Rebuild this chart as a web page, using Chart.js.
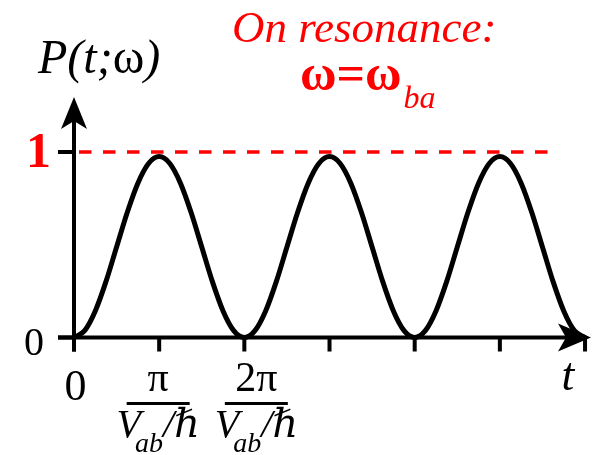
<!DOCTYPE html>
<html>
<head>
<meta charset="utf-8">
<script src="https://cdn.jsdelivr.net/npm/chart.js@4/dist/chart.umd.min.js"></script>
<style>
  html, body { margin: 0; padding: 0; background: #fff; }
  #wrap { width: 594px; height: 455px; }
</style>
</head>
<body>
<div id="wrap"><canvas id="c" width="594" height="455"></canvas></div>
<script>
// Time axis in units of π/(V_ab/ħ)
const tValues = [
  0, 0.125, 0.25, 0.375, 0.5, 0.625, 0.75, 0.875, 1, 1.125, 1.25, 1.375, 1.5, 1.625, 1.75, 1.875,
  2, 2.125, 2.25, 2.375, 2.5, 2.625, 2.75, 2.875, 3, 3.125, 3.25, 3.375, 3.5, 3.625, 3.75, 3.875,
  4, 4.125, 4.25, 4.375, 4.5, 4.625, 4.75, 4.875, 5, 5.125, 5.25, 5.375, 5.5, 5.625, 5.75, 5.875,
  6
];
// Transition probability P(t;ω) on resonance
const probValues = [
  0, 0.037, 0.143, 0.301, 0.488, 0.674, 0.832, 0.938, 0.975, 0.938, 0.832, 0.674, 0.488, 0.301, 0.143, 0.037,
  0, 0.037, 0.143, 0.301, 0.488, 0.674, 0.832, 0.938, 0.975, 0.938, 0.832, 0.674, 0.488, 0.301, 0.143, 0.037,
  0, 0.037, 0.143, 0.301, 0.488, 0.674, 0.832, 0.938, 0.975, 0.938, 0.832, 0.674, 0.488, 0.301, 0.143, 0.037,
  0
];
const xTickValues = [0, 1, 2, 3, 4, 5, 6];
const yTickValues = [0, 1];
const yTickLabels = ['0', '1'];
const fractionNumerators = ['π', '2π'];
const fractionTicks = [1, 2];
const maxProbability = 1;

const SERIF = '"Liberation Serif", "Times New Roman", "DejaVu Serif", serif';
const RED = '#ff0000';

function arrowHead(ctx, tipX, tipY, dirX, dirY, len, half, notch) {
  const nx = -dirY, ny = dirX;
  const bx = tipX - dirX * len, by = tipY - dirY * len;
  const cx = tipX - dirX * notch, cy = tipY - dirY * notch;
  ctx.beginPath();
  ctx.moveTo(tipX, tipY);
  ctx.lineTo(bx + nx * half, by + ny * half);
  ctx.lineTo(cx, cy);
  ctx.lineTo(bx - nx * half, by - ny * half);
  ctx.closePath();
  ctx.fill();
}

const backdrop = {
  id: 'backdrop',
  beforeDatasetsDraw(chart) {
    const ctx = chart.ctx;
    const xs = chart.scales.x, ys = chart.scales.y;
    const x0 = xs.getPixelForValue(0), y0 = ys.getPixelForValue(0);
    const y1 = ys.getPixelForValue(maxProbability);
    ctx.save();
    // dashed reference level
    ctx.strokeStyle = RED;
    ctx.lineWidth = 3.5;
    ctx.setLineDash([12.5, 11.5]);
    ctx.beginPath();
    ctx.moveTo(x0 + 5, y1);
    ctx.lineTo(557, y1);
    ctx.stroke();
    ctx.setLineDash([]);
    // axes
    ctx.strokeStyle = '#000';
    ctx.lineWidth = 4;
    ctx.beginPath();
    ctx.moveTo(58, y0);
    ctx.lineTo(xs.right - 12, y0);
    ctx.moveTo(x0, y0 + 14);
    ctx.lineTo(x0, ys.top + 12);
    ctx.stroke();
    // tick marks
    ctx.beginPath();
    xTickValues.forEach(v => {
      const px = xs.getPixelForValue(v);
      ctx.moveTo(px, y0);
      ctx.lineTo(px, y0 + 14);
    });
    yTickValues.forEach(v => {
      const py = ys.getPixelForValue(v);
      ctx.moveTo(58, py);
      ctx.lineTo(x0, py);
    });
    ctx.stroke();
    ctx.restore();
  },
  afterDraw(chart) {
    const ctx = chart.ctx;
    const xs = chart.scales.x, ys = chart.scales.y;
    const x0 = xs.getPixelForValue(0), y0 = ys.getPixelForValue(0);
    ctx.save();
    ctx.fillStyle = '#000';
    arrowHead(ctx, x0, ys.top - 1, 0, -1, 32, 13, 24);
    arrowHead(ctx, xs.right, y0, 1, 0, 33, 14, 25);

    ctx.textBaseline = 'alphabetic';
    // y tick labels
    ctx.textAlign = 'center';
    ctx.fillStyle = '#000';
    ctx.font = '40px ' + SERIF;
    ctx.fillText(yTickLabels[0], 34, ys.getPixelForValue(yTickValues[0]) + 17);
    ctx.fillStyle = RED;
    ctx.font = 'bold 50px ' + SERIF;
    ctx.fillText(yTickLabels[1], 38.5, ys.getPixelForValue(yTickValues[1]) + 15);

    // x tick labels
    ctx.fillStyle = '#000';
    ctx.font = '44px ' + SERIF;
    ctx.fillText('0', x0 + 1.5, 400);
    const offsets = [-1, 12];
    fractionTicks.forEach((v, i) => {
      const cx = xs.getPixelForValue(v) + offsets[i];
      ctx.textAlign = 'center';
      ctx.font = '42px ' + SERIF;
      ctx.fillText(fractionNumerators[i], cx, 391);
      ctx.fillRect(cx - 31.5, 402, 63, 3);
      // denominator V_ab/ħ
      ctx.textAlign = 'left';
      const bigF = 'italic 40px ' + SERIF;
      const subF = 'italic 28px ' + SERIF;
      ctx.font = bigF; const wV = ctx.measureText('V').width;
      ctx.font = subF; const wS = ctx.measureText('ab').width;
      ctx.font = bigF; const wH = ctx.measureText('/ℏ').width;
      const total = wV - 6 + wS + wH;
      let x = cx - total / 2;
      ctx.font = bigF; ctx.fillText('V', x, 437); x += wV - 6;
      ctx.font = subF; ctx.fillText('ab', x, 452); x += wS;
      ctx.font = bigF; ctx.fillText('/ℏ', x, 437);
    });
    ctx.textAlign = 'center';
    ctx.font = 'italic 46px ' + SERIF;
    ctx.fillText('t', 568, 390);

    // y axis title P(t;ω)
    ctx.textAlign = 'left';
    let x = 38;
    const parts = [['P(t;', 'italic'], ['ω', ''], [')', 'italic']];
    parts.forEach(([s, st]) => {
      ctx.font = (st ? st + ' ' : '') + '48px ' + SERIF;
      ctx.fillText(s, x, 73);
      x += ctx.measureText(s).width;
    });

    // resonance annotation
    ctx.fillStyle = RED;
    ctx.font = 'italic 45px ' + SERIF;
    ctx.fillText('On resonance:', 232, 42);
    ctx.font = 'bold 50px ' + SERIF;
    ctx.fillText('ω=ω', 300, 90);
    const wW = ctx.measureText('ω=ω').width;
    ctx.font = 'italic 32px ' + SERIF;
    ctx.fillText('ba', 300 + wW + 2, 108);
    ctx.restore();
  }
};

new Chart(document.getElementById('c').getContext('2d'), {
  type: 'line',
  data: {
    datasets: [{
      data: tValues.map((t, i) => ({ x: t, y: probValues[i] })),
      borderColor: '#000',
      borderWidth: 5,
      pointRadius: 0,
      fill: false,
      cubicInterpolationMode: 'monotone',
      borderCapStyle: 'round',
      borderJoinStyle: 'round',
      clip: false
    }]
  },
  options: {
    responsive: false,
    animation: false,
    events: [],
    layout: { padding: { left: 74, right: 3, top: 98, bottom: 117.5 } },
    scales: {
      x: { type: 'linear', display: false, min: 0, max: 6.07 },
      y: { type: 'linear', display: false, min: 0, max: 1.291 }
    },
    plugins: { legend: { display: false }, tooltip: { enabled: false } }
  },
  plugins: [backdrop]
});
</script>
</body>
</html>
